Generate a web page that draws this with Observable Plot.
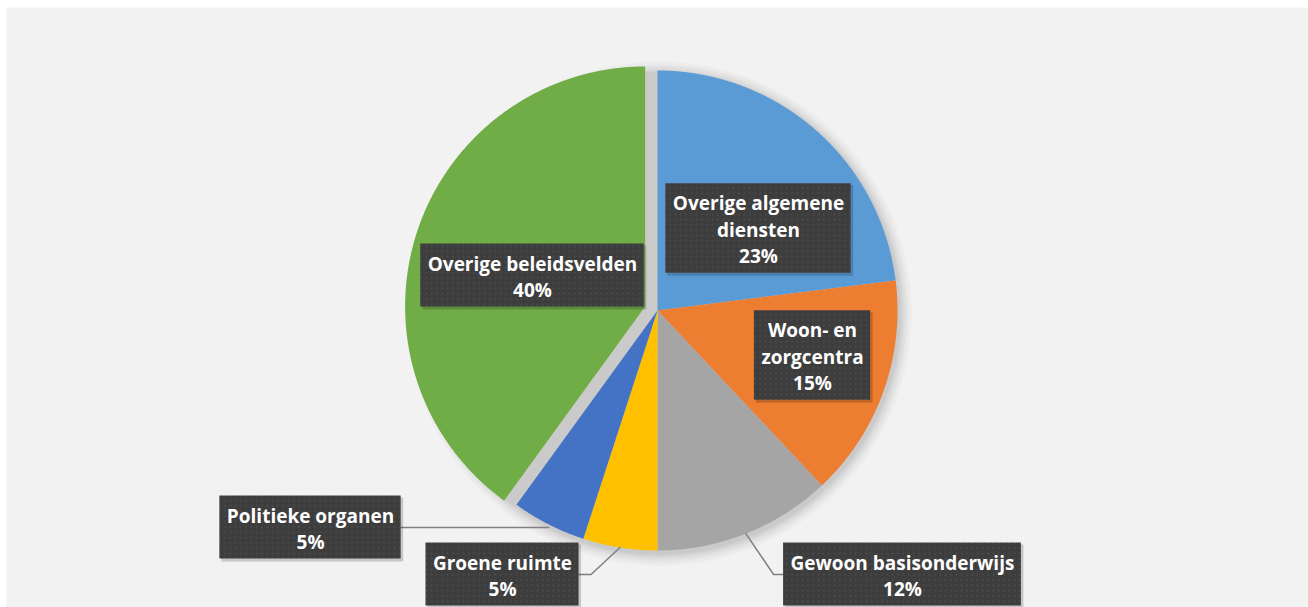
<!DOCTYPE html>
<html><head><meta charset="utf-8">
<script src="https://cdn.jsdelivr.net/npm/d3@7"></script>
<script src="https://cdn.jsdelivr.net/npm/@observablehq/plot@0.6"></script>
<style>html,body{margin:0;padding:0;background:#fff;overflow:hidden}#chart{position:absolute;left:0;top:0}</style>
</head><body><div id="chart"></div>
<script>
// ---- data ----
const categories = ["Overige algemene diensten","Woon- en zorgcentra","Gewoon basisonderwijs","Groene ruimte","Politieke organen","Overige beleidsvelden"];
const shares = [23, 15, 12, 5, 5, 40];
const colors = ["#5b9bd5","#ed7d31","#a5a5a5","#ffc000","#4472c4","#70ad47"];
const labelLines = [["Overige algemene","diensten"],["Woon- en","zorgcentra"],["Gewoon basisonderwijs"],["Groene ruimte"],["Politieke organen"],["Overige beleidsvelden"]];
const exploded = ["Overige beleidsvelden"];

// ---- layout ----
const W = 1308, H = 607;
const cx = 657, cy = 310, R = 240, explodeDist = 13;
// label box centre offsets from pie centre (Excel manual placement)
const labelOffset = [[101,-82],[155,45],[245,264],[-155,264],[-347,217],[-125,-35]];
const outside = [false,false,true,true,true,false];
const lineH = 26.5, fontSize = 19, fontFamily = "Open Sans";

const total = d3.sum(shares);
const pie = d3.pie().sort(null).value(d => d)(shares);
const pt = (a, r) => [Math.sin(a) * r, -Math.cos(a) * r];

function wedge(p, name, r, sx, sy, explode) {
  const mid = (p.startAngle + p.endAngle) / 2;
  const [ox, oy] = explode ? pt(mid, explodeDist) : [0, 0];
  const out = [{name, x: cx + ox + sx, y: cy + oy + sy}];
  const n = Math.max(2, Math.ceil((p.endAngle - p.startAngle) / 0.005));
  for (let k = 0; k <= n; k++) {
    const a = p.startAngle + (p.endAngle - p.startAngle) * k / n;
    const [dx, dy] = pt(a, r);
    out.push({name, x: cx + ox + sx + dx, y: cy + oy + sy + dy});
  }
  return out;
}

const wedgePts = [];
const shadowLayers = [];
const leaderPts = [];
const boxes = [];
const ctx = document.createElement("canvas").getContext("2d");
ctx.font = `bold ${fontSize}px "${fontFamily}"`;

pie.forEach((p, i) => {
  const name = categories[i];
  const mid = (p.startAngle + p.endAngle) / 2;
  wedgePts.push(...wedge(p, name, R, 0, 0, exploded.includes(name)));
  const lines = [...labelLines[i], Math.round(shares[i] / total * 100) + "%"];
  const w = d3.max(lines, s => ctx.measureText(s).width) + 14;
  const h = lines.length * lineH + 10;
  const bx = cx + labelOffset[i][0], by = cy + labelOffset[i][1];
  boxes.push({name, text: lines.join("\n"), x1: bx - w/2, x2: bx + w/2, y1: by - h/2, y2: by + h/2, cx: bx, cy: by});
  if (outside[i]) {
    const [ex, ey] = pt(mid, R);
    const left = bx < cx + ex;
    const edgeX = left ? bx + w/2 : bx - w/2;
    const flat = Math.abs(cy + ey - by) < 8;
    const elbowX = flat ? edgeX : edgeX + (left ? 12 : -10);
    leaderPts.push({name, x: cx + ex, y: flat ? by : cy + ey});
    leaderPts.push({name, x: elbowX, y: by});
    leaderPts.push({name, x: edgeX, y: by});
  }
});
// soft shadow: stacked translucent copies of the wedges, growing outwards
const shadowSteps = [12, 9, 7, 5, 3.5, 2, 1];
shadowSteps.forEach((g, s) => {
  pie.forEach((p, i) => shadowLayers.push({layer: s, pts: wedge(p, categories[i], R + g, 2, 3, false)}));
});

const chart = Plot.plot({
  width: W, height: H,
  marginLeft: 6, marginTop: 7, marginRight: 0, marginBottom: 0,
  x: {domain: [0, W], range: [0, W], axis: null},
  y: {domain: [0, H], range: [0, H], axis: null},
  style: {background: "transparent", overflow: "visible"},
  marks: [
    Plot.frame({fill: "#f2f2f2", stroke: "none"}),
    ...shadowLayers.map(l => Plot.line(l.pts, {x: "x", y: "y", fill: "#000", fillOpacity: 0.022, stroke: "none", curve: "linear-closed"})),
    ...categories.map((c, i) => Plot.line(wedgePts.filter(d => d.name === c), {x: "x", y: "y", fill: colors[i], stroke: "none", curve: "linear-closed"})),
    Plot.line(leaderPts, {x: "x", y: "y", z: "name", stroke: "#808080", strokeWidth: 1.5}),
    Plot.rect(boxes, {x1: d => d.x1 + 2, x2: d => d.x2 + 2.5, y1: d => d.y1 + 2, y2: d => d.y2 + 3, fill: "#000", fillOpacity: 0.18}),
    Plot.rect(boxes, {x1: "x1", x2: "x2", y1: "y1", y2: "y2", fill: "url(#dots)"}),
    Plot.text(boxes, {x: "cx", y: "cy", text: "text", fill: "white", fontWeight: "bold", fontSize, fontFamily, lineHeight: lineH / fontSize, lineAnchor: "middle"})
  ]
});

const svg = d3.select(chart);
const defs = svg.insert("defs", ":first-child");
const pat = defs.append("pattern").attr("id", "dots").attr("patternUnits", "userSpaceOnUse").attr("width", 5.3).attr("height", 5.3);
pat.append("rect").attr("width", 5.3).attr("height", 5.3).attr("fill", "#3d3d3d");
pat.append("rect").attr("x", 1.5).attr("y", 1.5).attr("width", 1.6).attr("height", 1.6).attr("fill", "#4e4e4e");

document.getElementById("chart").appendChild(chart);
</script>
</body></html>
